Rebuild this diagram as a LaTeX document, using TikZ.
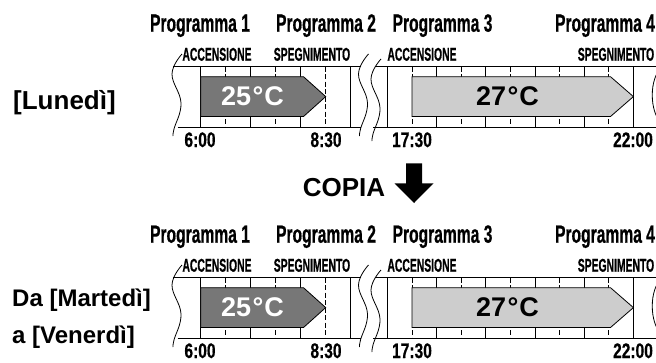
\documentclass[tikz,border=0pt]{standalone}
\usepackage{fontspec}
\setmainfont{Liberation Sans}
\newfontfamily\condfont[FakeStretch=0.625, FakeBold=0.6]{Liberation Sans}
\newfontfamily\narrowfont[FakeStretch=0.56, FakeBold=0.6]{Liberation Sans}
\newfontfamily\numfont[FakeStretch=0.74, FakeBold=0.6]{Liberation Sans}
\usetikzlibrary{calc}
\definecolor{warmfill}{HTML}{777777}
\definecolor{coolfill}{HTML}{CDCDCD}
\tikzset{
  progtext/.style={font=\condfont\bfseries\fontsize{25}{28}\selectfont, anchor=base, inner sep=0pt},
  eventtext/.style={font=\narrowfont\bfseries\fontsize{18.5}{21}\selectfont, anchor=base, inner sep=0pt},
  timetext/.style={font=\numfont\bfseries\fontsize{21}{24}\selectfont, anchor=base, inner sep=0pt},
  daytext/.style={font=\bfseries\fontsize{#1}{30}\selectfont, anchor=base west, inner sep=0pt},
  daytext/.default={25},
  temptext/.style={font=\bfseries\fontsize{27}{30}\selectfont, inner sep=0pt},
  hourline/.style={line width=0.8pt},
  halfline/.style={line width=0.8pt, dash pattern=on 5pt off 2.5pt},
  pics/brk/.style = {
    code = {
    \draw[pic actions] plot[smooth, tension=0.7] coordinates {(10,-42) (0,-22) (9,7) (2,33) (1,40)};
    }
  },
  pics/band/.style = {
    code = {
    % hour and half hour marks
    \foreach \x in {200.7,250.7,300.7,350.7,387.4,436.6,485.8,535,584.2,633.4}{
       \draw[hourline] (\x,66.7) -- (\x,127);
     }
    \foreach \x in {225.7,275.7,325.7,412,461.2,510.4,559.6,608.8}{
       \draw[halfline] (\x,66.7) -- (\x,127);
     }
    % band edges
    \draw[hourline] (173,66.7) -- (360.5,66.7) (374.5,66.7) -- (656,66.7);
    \draw[hourline] (177.5,127) -- (361,127) (373,127) -- (656,127);
    \pic[line width=0.8pt] at (172,96) {brk};
    \pic[line width=0.8pt] at (358.5,96) {brk};
    \pic[line width=0.8pt] at (371,101) {brk};
    \draw[line width=0.8pt] (662,67) .. controls (649,78) and (649,112) .. (662,124);
    % heating periods
    \draw[line width=0.8pt, fill=warmfill] (200.7,76.7) -- (303.5,76.7) -- (325.7,96.6) -- (303.5,116.5) -- (200.7,116.5) -- cycle;
    \node[temptext, text=white] (-t1) at (252.5,96.6) {25\kern1.5pt°\kern1pt C};
    \draw[line width=0.8pt, fill=coolfill] (412,76.7) -- (610.5,76.7) -- (633.4,96.6) -- (610.5,116.5) -- (412,116.5) -- cycle;
    \node[temptext] (-t2) at (507.5,96.6) {27\kern1.5pt°\kern1pt C};
    % labels
    \node[progtext] (-p1) at (200,31.7) {Programma 1};
    \node[progtext] (-p2) at (326,31.7) {Programma 2};
    \node[progtext] (-p3) at (442.5,31.7) {Programma 3};
    \node[progtext] (-p4) at (605,31.7) {Programma 4};
    \node[eventtext] (-on1) at (217,60.7) {ACCENSIONE};
    \node[eventtext] (-off1) at (312,60.7) {SPEGNIMENTO};
    \node[eventtext] (-on2) at (422,60.7) {ACCENSIONE};
    \node[eventtext] (-off2) at (616,60.7) {SPEGNIMENTO};
    \node[timetext] (-h1) at (200,147) {6:00};
    \node[timetext] (-h2) at (326,147) {8:30};
    \node[timetext] (-h3) at (412,147) {17:30};
    \node[timetext] (-h4) at (633,147) {22:00};
    }
  }
}
\begin{document}
\begin{tikzpicture}[x=1pt,y=-1pt]
\path[use as bounding box, clip] (0,0) rectangle (656,362);

  \pic (lun) at (0,0) {band};
  \pic (mav) at (0,211) {band};

  \node[daytext=26] (lunedi) at (13,109) {[Lunedì]};
  \node[daytext=24] (damar) at (12,306) {Da [Martedì]};
  \node[daytext=24] (aven) at (12,343.3) {a [Venerdì]};

  % copy arrow
  \node[font=\bfseries\fontsize{26}{30}\selectfont, anchor=base, inner sep=0pt] (copia) at (344,196) {COPIA};
  \fill (406,163.3) -- (422,163.3) -- (422,183.3) -- (433.5,183.3) -- (414,203) -- (394.5,183.3) -- (406,183.3) -- cycle;

\end{tikzpicture}
\end{document}
